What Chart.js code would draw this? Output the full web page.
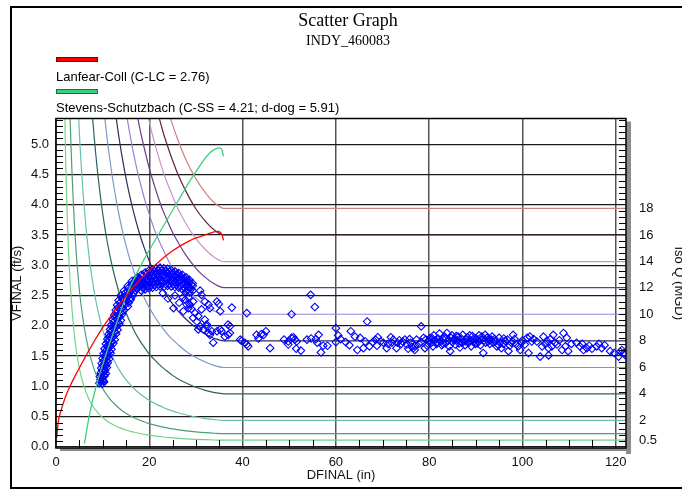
<!DOCTYPE html>
<html>
<head>
<meta charset="utf-8">
<title>Scatter Graph</title>
<script src="https://cdn.jsdelivr.net/npm/chart.js@4.4.1/dist/chart.umd.min.js"></script>
<style>
  html, body { margin: 0; padding: 0; background: #fff; overflow: hidden; }
  #wrap { position: relative; width: 682px; height: 489px; overflow: hidden; }
  #wrap canvas { position: absolute; left: 0; top: 0; }
</style>
</head>
<body>
<div id="wrap"><canvas id="myChart" width="686" height="489"></canvas></div>
<script>
// axis ticks
const xTicks = [0, 20, 40, 60, 80, 100, 120];
const yTicks = [0, 0.5, 1, 1.5, 2, 2.5, 3, 3.5, 4, 4.5, 5];

// iso-Q curves (MGD), velocity read per depth; 1 MGD has no label on the right axis
const isoQ = ['0.5', '1', '2', '4', '6', '8', '10', '12', '14', '16', '18'];
const isoAxisLabels = ['0.5', '2', '4', '6', '8', '10', '12', '14', '16', '18'];
const isoDepth = [1, 1.5, 2, 2.5, 3, 4, 5, 6, 7, 8, 9, 10, 11, 12, 13, 14, 15, 16, 17, 18, 19, 20, 21, 22, 23, 24, 25, 26, 28, 30, 32, 34, 36, 122.5];
const isoVel = [
  [null, 7.68, 5.01, 3.60, 2.75, 1.80, 1.30, 1.00, 0.80, 0.661, 0.560, 0.483, 0.423, 0.375, 0.336, 0.304, 0.278, 0.255, 0.236, 0.219, 0.204, 0.192, 0.181, 0.171, 0.162, 0.155, 0.148, 0.142, 0.131, 0.123, 0.117, 0.112, 0.109, 0.109],
  [null, null, 10.02, 7.19, 5.49, 3.60, 2.60, 2.00, 1.60, 1.32, 1.12, 0.966, 0.846, 0.750, 0.673, 0.609, 0.555, 0.510, 0.471, 0.438, 0.409, 0.384, 0.361, 0.342, 0.325, 0.309, 0.295, 0.283, 0.262, 0.246, 0.233, 0.224, 0.219, 0.219],
  [null, null, null, null, 10.99, 7.21, 5.21, 4.00, 3.20, 2.65, 2.24, 1.93, 1.69, 1.50, 1.345, 1.217, 1.110, 1.019, 0.942, 0.876, 0.818, 0.767, 0.723, 0.684, 0.649, 0.618, 0.591, 0.566, 0.525, 0.492, 0.466, 0.448, 0.438, 0.438],
  [null, null, null, null, null, null, null, 7.99, 6.40, 5.29, 4.48, 3.86, 3.38, 3.00, 2.69, 2.43, 2.22, 2.04, 1.88, 1.75, 1.64, 1.53, 1.45, 1.37, 1.30, 1.24, 1.18, 1.13, 1.05, 0.983, 0.932, 0.895, 0.876, 0.876],
  [null, null, null, null, null, null, null, null, null, 7.94, 6.72, 5.79, 5.07, 4.50, 4.04, 3.65, 3.33, 3.06, 2.83, 2.63, 2.45, 2.30, 2.17, 2.05, 1.95, 1.85, 1.77, 1.70, 1.57, 1.475, 1.40, 1.34, 1.31, 1.31],
  [null, null, null, null, null, null, null, null, null, null, null, 7.73, 6.76, 6.00, 5.38, 4.87, 4.44, 4.08, 3.77, 3.50, 3.27, 3.07, 2.89, 2.74, 2.60, 2.47, 2.36, 2.26, 2.10, 1.97, 1.86, 1.79, 1.75, 1.75],
  [null, null, null, null, null, null, null, null, null, null, null, null, null, 7.50, 6.73, 6.09, 5.55, 5.10, 4.71, 4.38, 4.09, 3.84, 3.61, 3.42, 3.25, 3.09, 2.95, 2.83, 2.62, 2.46, 2.33, 2.24, 2.19, 2.19],
  [null, null, null, null, null, null, null, null, null, null, null, null, null, null, null, 7.30, 6.66, 6.12, 5.65, 5.25, 4.91, 4.60, 4.34, 4.10, 3.89, 3.71, 3.54, 3.40, 3.15, 2.95, 2.80, 2.69, 2.63, 2.63],
  [null, null, null, null, null, null, null, null, null, null, null, null, null, null, null, null, 7.77, 7.14, 6.60, 6.13, 5.72, 5.37, 5.06, 4.79, 4.54, 4.33, 4.14, 3.96, 3.67, 3.44, 3.26, 3.13, 3.06, 3.06],
  [null, null, null, null, null, null, null, null, null, null, null, null, null, null, null, null, null, null, 7.54, 7.00, 6.54, 6.14, 5.78, 5.47, 5.19, 4.95, 4.73, 4.53, 4.20, 3.93, 3.73, 3.58, 3.50, 3.50],
  [null, null, null, null, null, null, null, null, null, null, null, null, null, null, null, null, null, null, null, null, 7.36, 6.91, 6.51, 6.15, 5.84, 5.56, 5.32, 5.10, 4.72, 4.43, 4.20, 4.03, 3.94, 3.94]
];
const isoColors = ['#74d47e', '#4e9e72', '#66bfb0', '#2c6464', '#7a98c8', '#2c2c5a', '#9a82d6', '#6a3a88', '#cc92cc', '#5c2440', '#cc8080'];

// Lanfear-Coll and Stevens-Schutzbach curves
const seriesNames = ['Lanfear-Coll (C-LC = 2.76)', 'Stevens-Schutzbach (C-SS = 4.21; d-dog = 5.91)'];
const lcDepth = [0.15, 0.5, 1, 2, 3, 4.3, 5.9, 8, 10, 12.5, 15, 18, 21.2, 25, 28.5, 32, 34.7, 35.6, 35.9];
const lcVel = [0.15, 0.42, 0.58, 0.82, 1.0, 1.2, 1.43, 1.72, 1.97, 2.24, 2.49, 2.76, 3.0, 3.24, 3.4, 3.5, 3.56, 3.5, 3.41];
const ssDepth = [6.1, 7.1, 8.6, 10.6, 12.8, 15.1, 18.2, 21.9, 25.7, 29.6, 33.0, 35.1, 35.6, 35.9];
const ssVel = [0.05, 0.5, 1.0, 1.5, 2.0, 2.5, 3.0, 3.5, 4.0, 4.5, 4.86, 4.94, 4.9, 4.8];

// measured DFINAL (in), VFINAL (ft/s)
const bandPts = [
  [9.3,1.05],[9.9,1.04],[10.3,1.07],[9.5,1.11],[10.1,1.10],[9.4,1.16],[9.9,1.15],[10.4,1.17],
  [9.6,1.22],[10.2,1.23],[10.7,1.21],[9.7,1.30],[10.3,1.29],[10.9,1.31],[9.8,1.38],[10.5,1.37],[11.1,1.39],
  [10.0,1.46],[10.7,1.47],[11.4,1.45],[10.2,1.54],[10.9,1.53],[11.7,1.55],[10.4,1.62],[11.2,1.63],[11.9,1.61],
  [10.7,1.70],[11.5,1.69],[12.3,1.71],[11.0,1.78],[11.8,1.79],[12.6,1.77],[11.3,1.86],[12.1,1.85],[12.9,1.87],
  [11.6,1.94],[12.4,1.95],[13.2,1.93],[11.9,2.02],[12.8,2.01],[13.6,2.03],[12.2,2.10],[13.1,2.11],[13.9,2.09],
  [12.5,2.18],[13.4,2.17],[14.2,2.19],[12.8,2.26],[13.7,2.27],[14.5,2.25],[13.1,2.34],[13.9,2.33],[14.8,2.35],[15.4,2.32],
  [13.4,2.42],[14.3,2.43],[15.2,2.41],[16.0,2.43],[13.9,2.50],[14.8,2.49],[15.6,2.51],[16.5,2.50],
  [14.6,2.58],[15.4,2.57],[16.2,2.59],[17.0,2.58],[15.4,2.66],[16.2,2.67],[17.0,2.65],[17.8,2.66],[18.6,2.64],
  [16.3,2.74],[17.1,2.75],[17.9,2.73],[18.7,2.74],[19.5,2.75],
  [9.6,1.08],[10.2,1.08],[9.7,1.19],[10.3,1.19],[9.9,1.26],[10.5,1.26],[10.0,1.34],[10.7,1.34],
  [10.2,1.42],[10.9,1.42],[10.4,1.50],[11.2,1.50],[10.6,1.58],[11.4,1.58],[10.9,1.66],[11.7,1.66],
  [11.1,1.74],[12.0,1.74],[11.4,1.82],[12.3,1.82],[11.7,1.90],[12.6,1.90],[12.0,1.98],[12.9,1.98],
  [12.3,2.06],[13.3,2.06],[12.6,2.14],[13.6,2.14],[12.9,2.22],[13.9,2.22],[13.3,2.30],[14.3,2.30],
  [13.7,2.38],[14.7,2.38],[15.6,2.38],[14.2,2.46],[15.1,2.46],[16.0,2.46],[14.8,2.54],[15.7,2.54],[16.6,2.54],
  [15.5,2.62],[16.4,2.62],[17.3,2.62],[16.4,2.70],[17.3,2.70],[18.2,2.70],[19.1,2.70],
  [17.2,2.78],[18.0,2.78],[18.9,2.78],[19.7,2.78],
  [17.5,2.62],[17.5,2.80],[18.3,2.58],[18.3,2.68],[18.3,2.84],[19.1,2.60],[19.1,2.70],[19.1,2.88],
  [19.9,2.62],[19.9,2.72],[19.9,2.82],[19.9,2.91],[20.7,2.63],[20.7,2.73],[20.7,2.83],[20.7,2.93],
  [21.5,2.64],[21.5,2.74],[21.5,2.85],[21.5,2.95],[22.3,2.65],[22.3,2.75],[22.3,2.86],[22.3,2.96],
  [23.1,2.64],[23.1,2.74],[23.1,2.85],[23.1,2.95],[23.9,2.66],[23.9,2.76],[23.9,2.86],[23.9,2.94],
  [24.7,2.65],[24.7,2.75],[24.7,2.84],[24.7,2.92],[25.5,2.64],[25.5,2.73],[25.5,2.82],[25.5,2.90],
  [26.3,2.63],[26.3,2.72],[26.3,2.80],[26.3,2.87],[27.1,2.60],[27.1,2.69],[27.1,2.77],[27.1,2.84],
  [27.9,2.57],[27.9,2.66],[27.9,2.74],[27.9,2.80],[28.6,2.55],[28.6,2.63],[28.6,2.71],[28.6,2.76],
  [29.3,2.58],[29.3,2.66],[29.3,2.70],
  [17.9,2.65],[17.9,2.77],[18.7,2.63],[18.7,2.73],[18.7,2.83],[19.5,2.65],[19.5,2.76],[19.5,2.86],
  [20.3,2.67],[20.3,2.78],[20.3,2.89],[21.1,2.68],[21.1,2.79],[21.1,2.90],[21.9,2.69],[21.9,2.80],[21.9,2.91],
  [22.7,2.70],[22.7,2.81],[22.7,2.91],[23.5,2.69],[23.5,2.80],[23.5,2.90],[24.3,2.70],[24.3,2.80],[24.3,2.89],
  [25.1,2.69],[25.1,2.79],[25.1,2.87],[25.9,2.68],[25.9,2.77],[25.9,2.85],[26.7,2.66],[26.7,2.75],[26.7,2.82],
  [27.5,2.63],[27.5,2.71],[27.5,2.79],[28.3,2.60],[28.3,2.68],[28.3,2.75],[29.0,2.61],[29.0,2.68]
];
const fallPts = [
  [22.9,2.54],[24.0,2.45],[25.5,2.50],[25.2,2.29],[26.4,2.38],[27.2,2.47],[27.7,2.43],[27.3,2.24],[28.0,2.35],
  [28.4,2.47],[28.4,2.29],[28.7,2.35],[29.0,2.28],[29.4,2.40],[29.4,2.13],[29.8,2.21],[30.2,2.07],[30.5,2.16],
  [30.5,1.94],[30.9,2.58],[30.9,1.99],[31.2,2.51],[31.2,2.27],[31.6,1.94],[31.9,2.40],[31.9,2.10],[32.3,2.02],
  [32.3,1.99],[32.7,2.35],[32.7,1.88],[33.0,2.29],[33.0,1.85],[33.4,1.91],[33.7,1.72],[34.5,2.40],[34.5,1.91],
  [34.9,2.36],[35.2,2.24],[35.2,1.94],[35.5,1.91],[36.2,1.82],[36.9,2.02],[36.9,1.85],[37.3,1.88],[37.3,1.99],
  [37.7,2.30],[39.5,1.77],[40.5,1.72],[40.9,2.21],[41.2,1.66]
];
const flatPts = [
  [39.8,1.75],[40.9,1.69],[43.0,1.85],[43.4,1.79],[44.0,1.86],[44.5,1.85],[45.0,1.91],[45.9,1.63],
  [48.9,1.77],[49.8,1.74],[49.8,1.69],[50.5,2.19],[50.5,1.80],[50.9,1.81],[51.2,1.77],[51.6,1.74],[51.5,1.62],
  [52.5,1.59],[53.8,1.77],[54.7,1.79],[54.6,2.51],[55.5,2.31],[55.7,1.78],[56.0,1.72],[56.3,1.85],[56.8,1.56],
  [57.3,1.67],[58.2,1.67],[60.0,1.96],[60.0,1.73],[60.5,1.84],[61.0,1.78],[62.1,1.73],[62.9,1.68],[63.2,1.91],
  [64.1,1.82],[64.6,1.60],[65.2,1.80],[65.9,1.63],[66.3,1.74],[66.7,2.07],[67.2,1.66],[67.9,1.73],[68.5,1.77],
  [69.0,1.81],[68.8,1.67],[69.6,1.74],[70.2,1.72],[70.9,1.63],[71.2,1.70],[71.8,1.81],[72.3,1.77],[72.0,1.72],
  [73.0,1.63],[73.2,1.72],[73.6,1.76],[74.0,1.70],[74.3,1.74],[74.8,1.77],[75.2,1.69],[75.5,1.62],[75.8,1.78],
  [76.0,1.72],[76.3,1.65],[76.6,1.63],[76.9,1.60],[77.0,1.67],[77.3,1.77],[77.8,1.70],[78.3,1.99],[78.3,1.73],
  [78.8,1.80],[79.1,1.63],[79.3,1.77],[79.6,1.67],[79.9,1.74],
  [80.0,1.76],[80.2,1.80],[80.5,1.72],[80.7,1.79],[80.8,1.66],[81.0,1.84],[81.3,1.76],[81.6,1.70],[81.8,1.73],
  [81.9,1.79],[82.2,1.87],[82.4,1.74],[82.7,1.68],[82.9,1.71],[83.0,1.78],[83.3,1.82],[83.5,1.71],[83.6,1.79],
  [83.8,1.88],[84.0,1.75],[84.3,1.66],[84.5,1.58],[84.7,1.80],[84.9,1.84],[85.0,1.73],[85.3,1.77],[85.5,1.78],
  [85.6,1.69],[85.8,1.83],[86.1,1.76],[86.2,1.82],[86.4,1.71],[86.6,1.64],[86.9,1.79],[87.0,1.72],[87.2,1.85],
  [87.4,1.74],[87.7,1.68],[87.9,1.74],[88.0,1.78],[88.2,1.81],[88.5,1.72],[88.7,1.84],[88.8,1.76],[89.0,1.66],
  [89.3,1.83],[89.5,1.78],[89.6,1.74],[89.9,1.70],[90.1,1.79],[90.3,1.71],[90.4,1.75],[90.7,1.84],[91.0,1.68],
  [91.1,1.77],[91.3,1.82],[91.6,1.55],[91.8,1.76],[92.0,1.85],[92.1,1.72],[92.4,1.80],[92.7,1.74],[92.9,1.78],
  [93.0,1.70],[93.3,1.77],[93.5,1.82],[93.7,1.72],[94.0,1.78],[94.2,1.74],[94.5,1.66],[94.9,1.68],[95.0,1.80],
  [95.2,1.72],[95.5,1.63],[95.9,1.70],[96.0,1.79],[96.3,1.75],[96.8,1.77],[97.0,1.58],[97.3,1.67],[97.6,1.72],
  [97.9,1.74],[98.0,1.85],[98.3,1.78],[98.6,1.70],[99.1,1.66],[99.5,1.60],[99.8,1.72],[100.0,1.76],
  [100.5,1.69],[101.0,1.80],[101.3,1.55],[101.6,1.82],[102.0,1.74],[102.4,1.78],[103.1,1.74],[103.8,1.49],
  [104.2,1.66],[104.5,1.82],[104.9,1.70],[105.3,1.75],[105.6,1.51],[105.6,1.63],[106.0,1.78],[106.3,1.66],
  [106.6,1.85],[107.0,1.72],[107.4,1.69],[107.9,1.76],[108.5,1.60],[108.8,1.88],[109.2,1.66],[109.5,1.80],
  [109.8,1.58],[110.5,1.70],[111.6,1.72],[112.3,1.66],[112.8,1.70],[113.1,1.60],[113.8,1.63],[114.3,1.67],
  [114.9,1.62],[115.9,1.66],[116.4,1.70],[117.0,1.63],[117.6,1.68],[118.8,1.58],[119.7,1.55],[120.6,1.49],
  [121.0,1.57],[121.3,1.60],[121.8,1.55],[122.0,1.52]
];

const SANS = "'Liberation Sans', Arial, sans-serif";
const SERIF = "'Liberation Serif', 'Times New Roman', serif";
Chart.defaults.font.family = SANS;
Chart.defaults.color = '#111';

const toXY = (xs, ys) => xs.map((x, i) => (ys[i] == null ? null : { x: x, y: ys[i] })).filter(p => p);
const toPts = arr => arr.map(p => ({ x: p[0], y: p[1] }));

const isoSets = isoQ.map((q, i) => ({
  type: 'line',
  label: 'Iso Q ' + q,
  data: toXY(isoDepth, isoVel[i]),
  borderColor: isoColors[i],
  borderWidth: 1.2,
  pointRadius: 0,
  cubicInterpolationMode: 'monotone',
  order: 3
}));
const isoAxisTicks = isoQ
  .map((q, i) => ({ value: isoVel[i][isoVel[i].length - 1], label: q }))
  .filter(t => isoAxisLabels.includes(t.label));

const frameDecor = {
  id: 'frameDecor',
  beforeDraw(chart) {
    const { ctx, chartArea: a } = chart;
    ctx.save();
    ctx.fillStyle = '#8c8c8c';
    ctx.fillRect(a.right, a.top + 3, 5, a.bottom - a.top + 3);
    ctx.fillRect(a.left + 4, a.bottom, a.right - a.left, 3);
    ctx.restore();
  },
  afterDatasetsDraw(chart) {
    const { ctx, chartArea: a, scales } = chart;
    ctx.save();
    ctx.strokeStyle = '#000';
    ctx.lineWidth = 1;
    ctx.beginPath();
    for (let i = 1; i <= 54; i++) {
      if (i % 5 === 0) continue;
      const py = Math.round(scales.y.getPixelForValue(i / 10)) + 0.5;
      ctx.moveTo(a.left, py); ctx.lineTo(a.left + 7, py);
      ctx.moveTo(a.right - 7, py); ctx.lineTo(a.right, py);
    }
    for (let d = 5; d < 122; d += 5) {
      if (d % 20 === 0) continue;
      const px = Math.round(scales.x.getPixelForValue(d)) + 0.5;
      ctx.moveTo(px, a.bottom); ctx.lineTo(px, a.bottom - 8);
    }
    ctx.stroke();
    ctx.lineWidth = 1.5;
    ctx.strokeRect(a.left, a.top, a.right - a.left, a.bottom - a.top);
    ctx.restore();
  },
  afterDraw(chart) {
    const ctx = chart.ctx;
    ctx.save();
    // page frame
    ctx.strokeStyle = '#000';
    ctx.lineWidth = 2;
    ctx.beginPath();
    ctx.moveTo(700, 7); ctx.lineTo(11, 7); ctx.lineTo(11, 488); ctx.lineTo(700, 488);
    ctx.stroke();
    // legend: swatch above each label
    const rows = [
      { ds: chart.data.datasets[0], bar: 57, text: 77, edge: '#7a0000' },
      { ds: chart.data.datasets[1], bar: 89, text: 108, edge: '#1c6a3e' }
    ];
    ctx.font = '13px ' + SANS;
    ctx.textBaseline = 'middle';
    ctx.textAlign = 'left';
    rows.forEach(r => {
      ctx.fillStyle = r.ds.borderColor;
      ctx.fillRect(56, r.bar, 42, 5);
      ctx.strokeStyle = r.edge;
      ctx.lineWidth = 1;
      ctx.strokeRect(56.5, r.bar + 0.5, 41, 4);
      ctx.fillStyle = '#000';
      ctx.fillText(r.ds.label, 56, r.text);
    });
    ctx.restore();
  }
};

const ctx = document.getElementById('myChart');
const scatterGraph = new Chart(ctx, {
  type: 'scatter',
  data: {
    datasets: [
      {
        type: 'line', label: seriesNames[0], data: toXY(lcDepth, lcVel),
        borderColor: '#ff0000', borderWidth: 1.3, pointRadius: 0,
        cubicInterpolationMode: 'monotone', order: 0
      },
      {
        type: 'line', label: seriesNames[1], data: toXY(ssDepth, ssVel),
        borderColor: '#3ccf7d', borderWidth: 1.3, pointRadius: 0,
        cubicInterpolationMode: 'monotone', order: 1
      },
      {
        label: 'VFINAL', data: toPts(bandPts.concat(fallPts, flatPts)),
        pointStyle: 'rectRot', pointRadius: 3.8, borderWidth: 1.1,
        borderColor: '#0000ff', backgroundColor: 'rgba(0,0,0,0)', order: 2
      },
      ...isoSets
    ]
  },
  options: {
    responsive: false,
    animation: false,
    events: [],
    layout: { padding: { left: 10, top: 7, right: 0, bottom: 0 } },
    plugins: {
      legend: { display: false },
      tooltip: { enabled: false },
      title: {
        display: true, text: 'Scatter Graph', color: '#000',
        font: { family: SERIF, size: 18, weight: 'normal' },
        padding: { top: 3, bottom: 0 }
      },
      subtitle: {
        display: true, text: 'INDY_460083', color: '#000',
        font: { family: SERIF, size: 14, weight: 'normal' },
        padding: { top: 1, bottom: 69.1 }
      }
    },
    scales: {
      x: {
        type: 'linear', min: 0, max: 122.2,
        afterBuildTicks: s => { s.ticks = xTicks.map(v => ({ value: v })); },
        afterFit: s => { s.height = 41; },
        ticks: { padding: 7, autoSkip: false, maxRotation: 0, font: { size: 13 } },
        grid: { color: '#555', lineWidth: 1.5, drawTicks: false },
        border: { display: false },
        title: { display: true, text: 'DFINAL (in)', color: '#111', font: { size: 13 }, padding: { top: 0, bottom: 6 } }
      },
      y: {
        type: 'linear', position: 'left', min: -0.02, max: 5.425,
        afterBuildTicks: s => { s.ticks = yTicks.map(v => ({ value: v })); },
        afterFit: s => { s.width = 46; },
        ticks: { padding: 7, autoSkip: false, font: { size: 13 }, callback: v => v.toFixed(1) },
        grid: { color: '#1a1a1a', lineWidth: 1.3, drawTicks: false },
        border: { display: false },
        title: { display: true, text: 'VFINAL (ft/s)', color: '#111', font: { size: 13 }, padding: { top: 0, bottom: 0 } }
      },
      y2: {
        type: 'linear', position: 'right', min: -0.02, max: 5.425,
        afterBuildTicks: s => { s.ticks = isoAxisTicks.map(t => ({ value: t.value })); },
        afterFit: s => { s.width = 60; },
        ticks: { padding: 13, autoSkip: false, font: { size: 13 }, callback: (v, i) => isoAxisTicks[i].label },
        grid: { display: false, drawTicks: false },
        border: { display: false },
        title: { display: true, text: 'Iso Q (MGD)', color: '#111', font: { size: 13 }, padding: { top: 0, bottom: 0 } }
      }
    }
  },
  plugins: [frameDecor]
});
</script>
</body>
</html>
